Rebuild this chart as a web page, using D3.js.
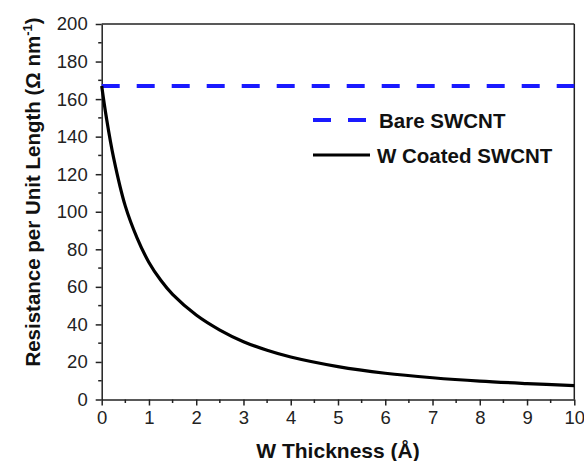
<!DOCTYPE html>
<html><head><meta charset="utf-8">
<script src="https://cdn.jsdelivr.net/npm/d3@7"></script>
<style>
html,body{margin:0;padding:0;background:#fff;}
text{font-family:"Liberation Sans",Arial,sans-serif;}
</style></head>
<body><svg id="c" width="584" height="461"></svg>
<script>
// Data
const thickness = [0,0.1,0.25,0.5,0.75,1,1.25,1.5,2,2.5,3,3.5,4,5,6,7,8,9,10];
const coated    = [167,150,129,103,86,73,63.5,56,45,37,30.8,26.2,22.6,17.5,14,11.6,9.8,8.5,7.4];
const bareValue = 167;
const xTicks = [0,1,2,3,4,5,6,7,8,9,10];
const yTicks = [0,20,40,60,80,100,120,140,160,180,200];
const seriesNames = ["Bare SWCNT","W Coated SWCNT"];

const svg = d3.select("#c");
const L=101.7, R=574.3, T=24, B=399.5;
const x = d3.scaleLinear().domain([0,10]).range([L,R]);
const y = d3.scaleLinear().domain([0,200]).range([B,T]);
const axisCol="#222";

// frame top & right
svg.append("line").attr("x1",L).attr("x2",R).attr("y1",T).attr("y2",T).attr("stroke",axisCol).attr("stroke-width",1.5);
svg.append("line").attr("x1",R).attr("x2",R).attr("y1",T).attr("y2",B).attr("stroke",axisCol).attr("stroke-width",1.5);

// minor ticks
const xMinor = d3.range(0.5,10,1);
const yMinor = d3.range(10,200,20);
svg.append("g").selectAll("line").data(xMinor).join("line")
  .attr("x1",d=>x(d)).attr("x2",d=>x(d)).attr("y1",B).attr("y2",B+3.5)
  .attr("stroke",axisCol).attr("stroke-width",1.5);
svg.append("g").selectAll("line").data(yMinor).join("line")
  .attr("y1",d=>y(d)).attr("y2",d=>y(d)).attr("x1",L).attr("x2",L-3.5)
  .attr("stroke",axisCol).attr("stroke-width",1.5);

// axes
const gx = svg.append("g").attr("transform",`translate(0,${B})`)
  .call(d3.axisBottom(x).tickValues(xTicks).tickFormat(d3.format("d")).tickSize(6).tickPadding(5).tickSizeOuter(0));
const gy = svg.append("g").attr("transform",`translate(${L},0)`)
  .call(d3.axisLeft(y).tickValues(yTicks).tickFormat(d3.format("d")).tickSize(6).tickPadding(8).tickSizeOuter(0));
[gx,gy].forEach(g=>{
  g.select(".domain").attr("stroke",axisCol).attr("stroke-width",1.5);
  g.selectAll(".tick line").attr("stroke",axisCol).attr("stroke-width",1.5);
  g.selectAll(".tick text").attr("font-size",18.5).attr("fill","#222").attr("font-family","'Liberation Sans',Arial,sans-serif");
});

// bare line
svg.append("line").attr("x1",x(0)).attr("x2",x(10)).attr("y1",y(bareValue)).attr("y2",y(bareValue))
  .attr("stroke","#1a1aff").attr("stroke-width",4).attr("stroke-dasharray","18,17");

// coated curve
const line = d3.line().x((d,i)=>x(thickness[i])).y(d=>y(d)).curve(d3.curveCatmullRom.alpha(0.5));
svg.append("path").datum(coated).attr("d",line).attr("fill","none").attr("stroke","#000").attr("stroke-width",3.2);

// legend
const lg = svg.append("g");
lg.append("line").attr("x1",313).attr("x2",368).attr("y1",120).attr("y2",120)
  .attr("stroke","#1a1aff").attr("stroke-width",4).attr("stroke-dasharray","18,17");
lg.append("text").attr("x",379).attr("y",127.5).attr("font-size",20.5).attr("font-weight","bold").attr("fill","#111").text(seriesNames[0]);
lg.append("line").attr("x1",313).attr("x2",370).attr("y1",155).attr("y2",155)
  .attr("stroke","#000").attr("stroke-width",3.2);
lg.append("text").attr("x",377).attr("y",163).attr("font-size",20.5).attr("font-weight","bold").attr("fill","#111").text(seriesNames[1]);

// axis titles
svg.append("text").attr("x",338).attr("y",458).attr("text-anchor","middle")
  .attr("font-size",21).attr("font-weight","bold").attr("fill","#111").text("W Thickness (Å)");
const yt = svg.append("text").attr("transform","translate(39.5,192) rotate(-90)").attr("text-anchor","middle")
  .attr("font-size",20.5).attr("font-weight","bold").attr("fill","#111");
yt.append("tspan").text("Resistance per Unit Length (Ω nm");
yt.append("tspan").attr("dy",-8).attr("font-size",13).text("-1");
yt.append("tspan").attr("dy",8).text(")");
</script></body></html>
